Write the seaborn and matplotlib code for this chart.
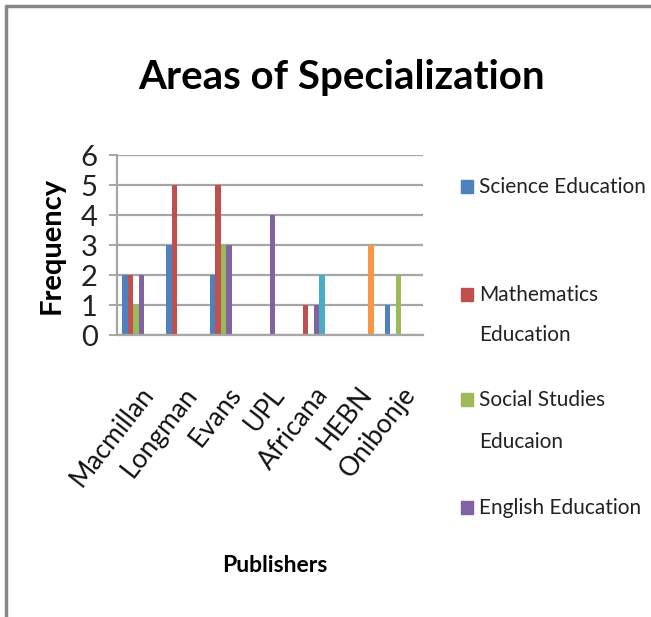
import matplotlib
matplotlib.use("Agg")
import matplotlib.pyplot as plt
import seaborn as sns
import pandas as pd
from matplotlib.patches import Rectangle

publishers = ["Macmillan", "Longman", "Evans", "UPL", "Africana", "HEBN", "Onibonje"]
series_names = ["Science Education", "Mathematics Education", "Social Studies Educaion",
                "English Education", "Series 5", "Series 6"]
science = [2, 3, 2, 0, 0, 0, 1]
mathematics = [2, 5, 5, 0, 1, 0, 0]
social = [1, 0, 3, 0, 0, 0, 2]
english = [2, 0, 3, 4, 1, 0, 0]
series5 = [0, 0, 0, 0, 2, 0, 0]
series6 = [0, 0, 0, 0, 0, 3, 0]
legend_labels = ["Science Education", "Mathematics\nEducation", "Social Studies\nEducaion", "English Education"]
colors = ["#4F81BD", "#C0504D", "#9BBB59", "#8064A2", "#4BACC6", "#F79646"]

rows = []
for name, vals in zip(series_names, [science, mathematics, social, english, series5, series6]):
    for p, v in zip(publishers, vals):
        rows.append({"Publisher": p, "Series": name, "Frequency": v})
df = pd.DataFrame(rows)

sns.set_style("white")
plt.rcParams["font.family"] = ["Lato", "DejaVu Sans"]

W, H = 651, 617
fig = plt.figure(figsize=(W / 100, H / 100), dpi=100)
ax = fig.add_axes([117 / W, 1 - 335 / H, (423 - 117) / W, (335 - 155) / H])

sns.barplot(data=df, x="Publisher", y="Frequency", hue="Series", order=publishers,
            hue_order=series_names, palette=colors, width=0.75, gap=0, saturation=1,
            linewidth=0, legend=False, ax=ax)

ax.set_xlim(-0.5, 6.5)
ax.set_ylim(0, 6)
ax.set_yticks(range(0, 7))
ax.yaxis.grid(True, color="#A6A6A6", linewidth=1.6)
ax.set_axisbelow(True)
for s in ["top", "right"]:
    ax.spines[s].set_visible(False)
ax.spines["left"].set_color("#A6A6A6")
ax.spines["left"].set_linewidth(1.6)
ax.spines["bottom"].set_color("#A6A6A6")
ax.spines["bottom"].set_linewidth(1.6)
ax.tick_params(axis="y", length=6, width=1.4, color="#A6A6A6", left=True, labelsize=21,
               labelcolor="#222222", pad=8)
ax.tick_params(axis="x", length=0, labelsize=19, labelcolor="#111111", pad=34)
ax.set_xticks(range(len(publishers)))
ax.set_xticklabels(publishers, rotation=52, ha="right", rotation_mode="anchor")
ax.set_xlabel("")
ax.set_ylabel("")

fig.text(342 / W, 1 - 77 / H, "Areas of Specialization", ha="center", va="center",
         fontsize=29, fontweight="bold", color="#000000")
fig.text(52 / W, 1 - 245 / H, "Frequency", ha="center", va="center", rotation=90,
         fontsize=21, fontweight="bold", color="#000000")
fig.text(275 / W, 1 - 565 / H, "Publishers", ha="center", va="center",
         fontsize=16.5, fontweight="bold", color="#000000")

# legend (only four entries visible in the reference)
leg_y = [[187], [295, 335], [400, 442], [508]]
for lab, ys, col in zip(legend_labels, leg_y, colors):
    y0 = ys[0]
    fig.patches.append(Rectangle((461 / W, 1 - (y0 + 6) / H), 12 / W, 13 / H,
                                 transform=fig.transFigure, color=col))
    for line, yy in zip(lab.split("\n"), ys):
        fig.text(479 / W, 1 - yy / H, line, ha="left", va="center", fontsize=15,
                 color="#222222")

# outer frame (top and left edges)
fig.add_artist(plt.Line2D([6 / W, 6 / W], [0, 1 - 6 / H], transform=fig.transFigure,
                          color="#888888", linewidth=2.5))
fig.add_artist(plt.Line2D([6 / W, 1], [1 - 6 / H, 1 - 6 / H], transform=fig.transFigure,
                          color="#888888", linewidth=2.5))

fig.savefig("out.png", dpi=100)
